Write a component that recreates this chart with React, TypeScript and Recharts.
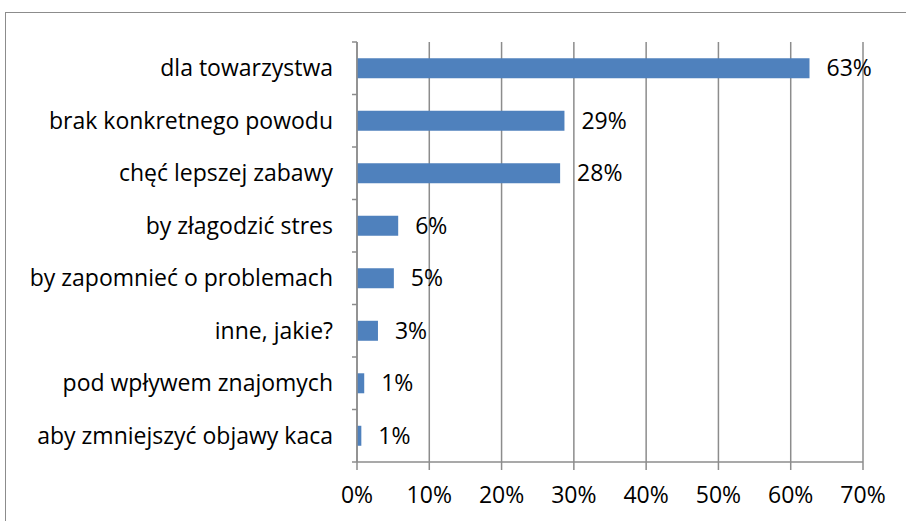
import { BarChart, Bar, XAxis, YAxis, CartesianGrid, LabelList } from "recharts";

const categories = [
  "dla towarzystwa",
  "brak konkretnego powodu",
  "chęć lepszej zabawy",
  "by złagodzić stres",
  "by zapomnieć o problemach",
  "inne, jakie?",
  "pod wpływem znajomych",
  "aby zmniejszyć objawy kaca",
];
const values = [62.6, 28.7, 28.1, 5.7, 5.1, 2.9, 1.0, 0.6];
const valueLabels = ["63%", "29%", "28%", "6%", "5%", "3%", "1%", "1%"];
const xTicks = [0, 10, 20, 30, 40, 50, 60, 70];

const data = categories.map((name, i) => ({ name, value: values[i], label: valueLabels[i] }));

const FONT = "'Open Sans', Lato, sans-serif";
const FS = 23;
const GRID = "#8c8c8c";

function CategoryTick(props: any) {
  const { x, y, payload, index } = props;
  const half = payload && payload.offset ? payload.offset : 26.25;
  return (
    <g>
      <line x1={x + 19} x2={x + 24} y1={y - half} y2={y - half} stroke={GRID} strokeWidth={1.5} />
      {index === categories.length - 1 && (
        <line x1={x + 19} x2={x + 24} y1={y + half} y2={y + half} stroke={GRID} strokeWidth={1.5} />
      )}
      <text x={x} y={y} dy="0.35em" textAnchor="end" fontSize={FS} fontFamily={FONT} fill="#000">
        {payload.value}
      </text>
    </g>
  );
}

export default function App() {
  return (
    <div style={{ position: "fixed", left: 0, top: 0, width: 906, height: 521, overflow: "hidden", background: "#fff" }}>
      <div
        style={{
          position: "absolute",
          left: 5,
          top: 12,
          width: 1000,
          height: 1000,
          border: "1.5px solid #8c8c8c",
        }}
      />
      <div style={{ position: "absolute", left: 0, top: 0 }}>
        <BarChart
          width={906}
          height={521}
          data={data}
          layout="vertical"
          margin={{ top: 42, right: 43, bottom: 0, left: 7 }}
          barCategoryGap="31%"
        >
          <CartesianGrid horizontal={false} stroke={GRID} strokeWidth={1.5} />
          <XAxis
            type="number"
            domain={[0, 70]}
            ticks={xTicks}
            interval={0}
            height={59}
            tickFormatter={(v: number) => `${v}%`}
            axisLine={{ stroke: GRID, strokeWidth: 1.5 }}
            tickLine={{ stroke: GRID, strokeWidth: 1.5 }}
            tickSize={8}
            tickMargin={17}
            tick={{ fontSize: FS, fontFamily: FONT, fill: "#000" }}
          />
          <YAxis
            type="category"
            dataKey="name"
            width={350}
            interval={0}
            axisLine={{ stroke: GRID, strokeWidth: 1.5 }}
            tickLine={false}
            tickSize={5}
            tickMargin={19}
            tick={<CategoryTick />}
          />
          <Bar dataKey="value" fill="#4f81bd" isAnimationActive={false}>
            <LabelList
              dataKey="label"
              position="right"
              offset={17}
              style={{ fontSize: FS, fontFamily: FONT, fill: "#000" }}
            />
          </Bar>
        </BarChart>
      </div>
    </div>
  );
}
